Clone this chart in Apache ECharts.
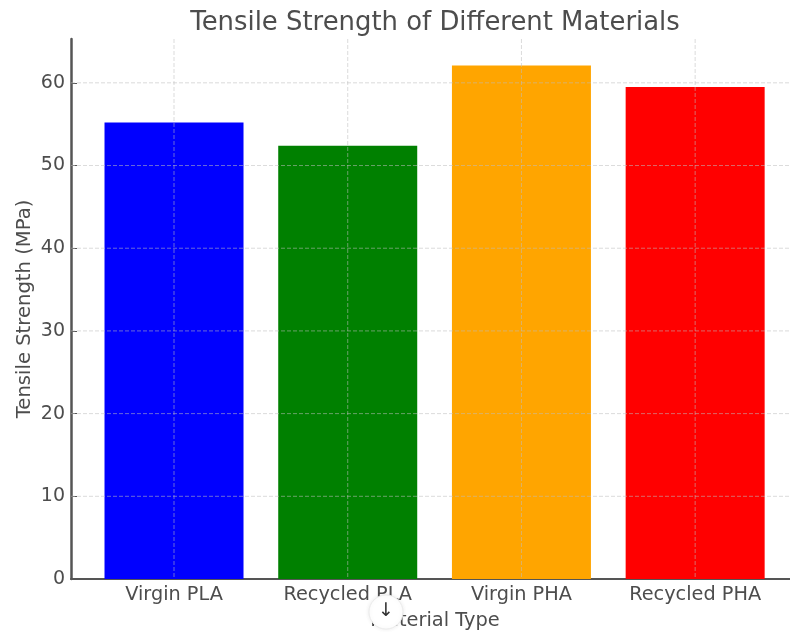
<!DOCTYPE html>
<html><head><meta charset="utf-8">
<style>html,body{margin:0;padding:0;background:#fff}#c{width:790px;height:632px}</style>
<script src="https://cdn.jsdelivr.net/npm/echarts@6/dist/echarts.min.js"></script></head>
<body><div id="c"></div>
<script>
const categories = ["Virgin PLA","Recycled PLA","Virgin PHA","Recycled PHA"];
const values = [55.2,52.4,62.1,59.5];
const colors = ["#0000ff","#008000","#ffa500","#ff0000"];
const positions = [0,1,2,3];
const yTicks = [0,10,20,30,40,50,60];
const chart = echarts.init(document.getElementById('c'));
const font = "DejaVu Sans";
const ink = "#4d4d4d";
const xMin = -0.593, xMax = 3.546, yMax = 65.3;
chart.setOption({
  animation:false,
  backgroundColor:"#fff",
  title:{text:"Tensile Strength of Different Materials",left:430,top:5,textAlign:"center",
    textStyle:{fontFamily:font,fontSize:25.9,fontWeight:"normal",color:ink}},
  grid:{left:71,top:39,right:0,bottom:53,containLabel:false,outerBoundsMode:"none"},
  xAxis:{type:"value",min:xMin,max:xMax,
    name:"Material Type",nameLocation:"middle",nameGap:32,
    nameTextStyle:{fontFamily:font,fontSize:19.4,color:ink,padding:[0,0,0,9]},
    axisLine:{show:true,lineStyle:{color:"#555",width:2}},
    axisTick:{show:true,inside:true,customValues:positions,length:5,lineStyle:{color:"#555"}},
    axisLabel:{customValues:positions,fontFamily:font,fontSize:19.3,color:ink,margin:6,
      formatter:v=>categories[v]},
    splitLine:{show:false}},
  yAxis:{type:"value",min:0,max:yMax,
    name:"Tensile Strength (MPa)",nameLocation:"middle",nameGap:36,nameMoveOverlap:false,
    nameTextStyle:{fontFamily:font,fontSize:19.6,color:ink},
    axisLine:{show:true,onZero:false,lineStyle:{color:"#555",width:2.5}},
    axisTick:{show:true,inside:true,customValues:yTicks,length:6,lineStyle:{color:"#555"}},
    axisLabel:{customValues:yTicks,fontFamily:font,fontSize:19,color:ink,margin:6},
    splitLine:{show:false}},
  series:[
    {type:"bar",barWidth:139,z:2,
     data:values.map((v,i)=>({value:[positions[i],v],itemStyle:{color:colors[i]}}))},
    {type:"custom",z:3,silent:true,clip:true,data:[0],
     renderItem:(p,api)=>{
       const ln=(a,b)=>({type:"line",shape:{x1:a[0],y1:a[1],x2:b[0],y2:b[1]},
         style:{stroke:"rgba(190,190,190,0.55)",lineWidth:1,lineDash:[4,2]}});
       const ch=[];
       positions.forEach(x=>ch.push(ln(api.coord([x,yMax]),api.coord([x,0]))));
       yTicks.slice(1).forEach(y=>ch.push(ln(api.coord([xMin,y]),api.coord([xMax,y]))));
       return {type:"group",children:ch};
     }}
  ],
  graphic:[
    {type:"circle",shape:{cx:386,cy:612,r:17},z:100,
      style:{fill:"#fff",stroke:"#ececec",lineWidth:1,shadowBlur:4,shadowColor:"rgba(0,0,0,0.08)"}},
    {type:"text",z:101,style:{text:"↓",x:386,y:611,align:"center",verticalAlign:"middle",
      font:"19px DejaVu Sans",fill:"#333"}}
  ]
});
</script></body></html>
